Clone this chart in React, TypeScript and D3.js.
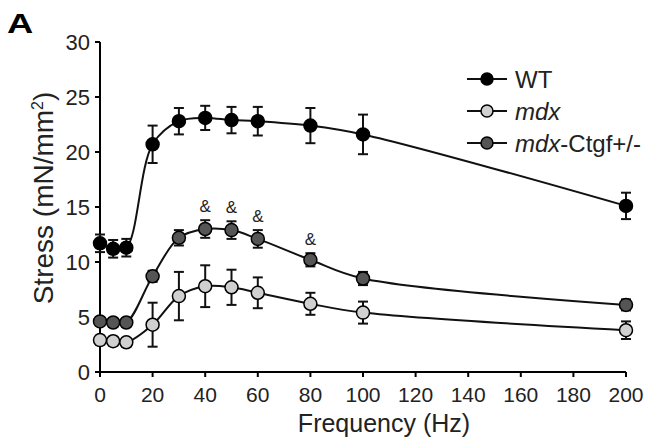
import React from "react";
import * as d3 from "d3";

const freqs = [0, 5, 10, 20, 30, 40, 50, 60, 80, 100, 200];
const wtMean = [11.7, 11.2, 11.3, 20.7, 22.8, 23.1, 22.9, 22.8, 22.4, 21.6, 15.1];
const wtErr = [0.8, 0.8, 0.8, 1.7, 1.2, 1.1, 1.2, 1.3, 1.6, 1.8, 1.2];
const mdxMean = [2.9, 2.8, 2.7, 4.3, 6.9, 7.8, 7.7, 7.2, 6.2, 5.4, 3.8];
const mdxErr = [0.4, 0.4, 0.4, 2.0, 2.2, 1.9, 1.6, 1.4, 1.0, 1.0, 0.8];
const ctgfMean = [4.6, 4.5, 4.5, 8.7, 12.2, 13.0, 12.9, 12.1, 10.2, 8.5, 6.1];
const ctgfErr = [0.3, 0.3, 0.3, 0.5, 0.7, 0.8, 0.8, 0.8, 0.6, 0.6, 0.5];
const ampFreqs = [40, 50, 60, 80];
const xTicks = [0, 20, 40, 60, 80, 100, 120, 140, 160, 180, 200];
const yTicks = [0, 5, 10, 15, 20, 25, 30];

const seriesList = [
  { name: "WT", mean: wtMean, err: wtErr, fill: "#000" },
  { name: "mdx", mean: mdxMean, err: mdxErr, fill: "#d0d0d0" },
  { name: "mdx-Ctgf+/-", mean: ctgfMean, err: ctgfErr, fill: "#555" },
];

export default function App() {
  const x = d3.scaleLinear().domain([0, 200]).range([100, 626]);
  const y = d3.scaleLinear().domain([0, 30]).range([372, 42]);
  const font = "Liberation Sans, Arial, sans-serif";
  const line = d3
    .line<number>()
    .x((_, i) => x(freqs[i]))
    .y((d) => y(d))
    .curve(d3.curveCatmullRom.alpha(0.5));
  const capW = 5;
  const r = 6.5;
  return (
    <svg width={652} height={444} style={{ position: "absolute", left: 0, top: 0, background: "#fff" }} fontFamily={font}>
      <text transform="translate(7,33) scale(1.3,1)" fontSize={28} fontWeight="bold">A</text>
      {/* axes */}
      <line x1={100} x2={100} y1={y(30)} y2={y(0) + 1} stroke="#000" strokeWidth={2} />
      <line x1={99} x2={x(200)} y1={y(0)} y2={y(0)} stroke="#000" strokeWidth={2} />
      {yTicks.map((t) => (
        <g key={"y" + t}>
          <line x1={95} x2={100} y1={y(t)} y2={y(t)} stroke="#000" strokeWidth={2} />
          <text x={90} y={y(t)} dy="0.36em" textAnchor="end" fontSize={22} fill="#222">{t}</text>
        </g>
      ))}
      {xTicks.map((t) => (
        <g key={"x" + t}>
          <line x1={x(t)} x2={x(t)} y1={y(0)} y2={y(0) + 5} stroke="#000" strokeWidth={2} />
          <text x={x(t)} y={402} textAnchor="middle" fontSize={21} fill="#222">{t}</text>
        </g>
      ))}
      <text x={384} y={432} textAnchor="middle" fontSize={25} fill="#222">Frequency (Hz)</text>
      <text transform="translate(53,198) rotate(-90)" textAnchor="middle" fontSize={28} fill="#222">
        Stress (mN/mm<tspan dy={-10} fontSize={16}>2</tspan><tspan dy={10}>)</tspan>
      </text>
      {seriesList.map((s) => (
        <g key={s.name}>
          <path d={line(s.mean) || ""} fill="none" stroke="#111" strokeWidth={2} />
          {s.mean.map((m, i) => {
            const cx = x(freqs[i]);
            const hi = y(m + s.err[i]);
            const lo = y(m - s.err[i]);
            return (
              <g key={i} stroke="#111" strokeWidth={2}>
                <line x1={cx} x2={cx} y1={hi} y2={lo} />
                <line x1={cx - capW} x2={cx + capW} y1={hi} y2={hi} />
                <line x1={cx - capW} x2={cx + capW} y1={lo} y2={lo} />
              </g>
            );
          })}
          {s.mean.map((m, i) => (
            <circle key={"c" + i} cx={x(freqs[i])} cy={y(m)} r={r} fill={s.fill} stroke="#000" strokeWidth={1.5} />
          ))}
        </g>
      ))}
      {ampFreqs.map((f) => {
        const i = freqs.indexOf(f);
        return (
          <text key={"a" + f} x={x(f)} y={y(ctgfMean[i] + ctgfErr[i]) - 8} textAnchor="middle" fontSize={17} fill="#222">&amp;</text>
        );
      })}
      {/* legend */}
      {seriesList.map((s, i) => {
        const ly = 79 + i * 32;
        return (
          <g key={"l" + s.name}>
            <line x1={467} x2={507} y1={ly} y2={ly} stroke="#111" strokeWidth={2} />
            <circle cx={487} cy={ly} r={6} fill={s.fill} stroke="#000" strokeWidth={1.5} />
            <text x={515} y={ly} dy="0.36em" fontSize={24} fill="#222">
              {s.name === "WT" ? "WT" : s.name === "mdx" ? <tspan fontStyle="italic">mdx</tspan> : (
                <>
                  <tspan fontStyle="italic">mdx</tspan>
                  <tspan>-Ctgf+/-</tspan>
                </>
              )}
            </text>
          </g>
        );
      })}
    </svg>
  );
}
